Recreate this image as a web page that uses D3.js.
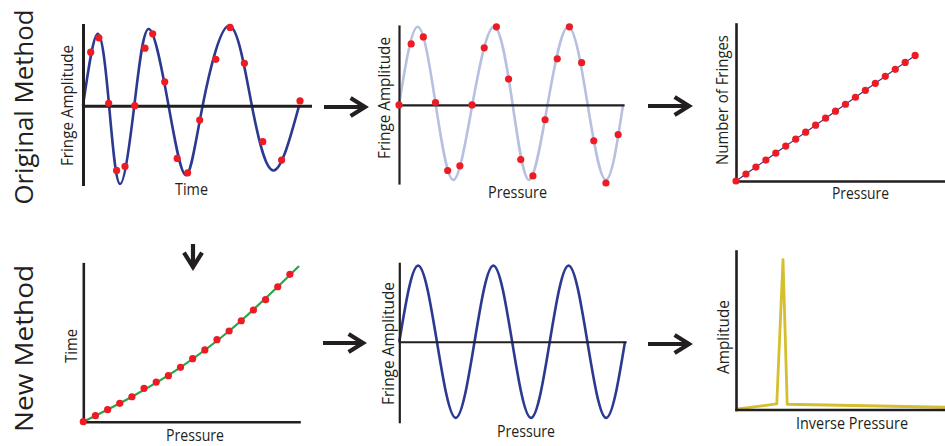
<!DOCTYPE html>
<html>
<head>
<meta charset="utf-8">
<script src="https://cdn.jsdelivr.net/npm/d3@7"></script>
<style>
  html, body { margin: 0; padding: 0; background: #ffffff; }
  svg { display: block; font-family: "Open Sans", "DejaVu Sans", sans-serif; }
</style>
</head>
<body>
<svg id="fig" width="945" height="446"></svg>
<script>
// ---------- Original method: fringe signal against time ----------
// extrema and zero crossings of the recorded signal
const origTimeKnots = [0, 0.65, 1.15, 1.63, 2.26, 2.90, 3.77, 4.53, 5.27, 6.44, 7.44, 8.41, 9.52];
const origTimeAmp   = [0, 0.90, 0, -0.98, 0, 0.96, 0, -0.87, 0, 1.00, 0, -0.81, 0];
// sampled points (equal pressure steps)
const origSampleTime = [0.34, 0.70, 1.13, 1.48, 1.85, 2.28, 2.73, 3.07, 3.60, 4.15, 4.61, 5.14, 5.85, 6.48, 7.11, 7.92, 8.75, 9.56];
const origSampleAmp  = [0.67, 0.85, 0.03, -0.81, -0.76, 0.00, 0.72, 0.90, 0.30, -0.66, -0.84, -0.18, 0.58, 0.98, 0.53, -0.45, -0.68, 0.06];

// ---------- Original method: same samples against pressure ----------
const origPressKnots = [0, 1.54, 3.02, 4.46, 6.02, 7.80, 9.34, 10.68, 12.20, 13.90, 15.50, 17.00, 18.40];
const origPressAmp   = [0, 1.00, 0, -0.96, 0, 1.00, 0, -0.96, 0, 1.00, 0, -0.96, 0];
const origPressSample = [0, 1, 2, 3, 4, 5, 6, 7, 8, 9, 10, 11, 12, 13, 14, 15, 16, 17, 18];
const origPressSampleAmp = [0, 0.78, 0.87, 0.03, -0.84, -0.78, 0, 0.73, 1.00, 0.33, -0.70, -0.91, -0.19, 0.59, 1.00, 0.54, -0.46, -1.00, -0.38];

// ---------- Original method: fringe count against pressure ----------
const countPressure = [0, 1, 2, 3, 4, 5, 6, 7, 8, 9, 10, 11, 12, 13, 14, 15, 16, 17, 18];
const fringeCount   = [0, 1, 2, 3, 4, 5, 6, 7, 8, 9, 10, 11, 12, 13, 14, 15, 16, 17, 18];

// ---------- New method: time of each pressure step ----------
const stepPressure = [0, 1, 2, 3, 4, 5, 6, 7, 8, 9, 10, 11, 12, 13, 14, 15, 16, 17];
const stepTime     = [0, 0.38, 0.76, 1.16, 1.58, 2.11, 2.51, 2.91, 3.44, 3.99, 4.54, 5.19, 5.74, 6.39, 7.07, 7.72, 8.54, 9.33];
const fitPressure  = [0, 4, 8, 12, 16, 17.75];
const fitTime      = [0, 1.58, 3.44, 5.74, 8.54, 9.85];

// ---------- New method: signal resampled on pressure ----------
const newPressKnots = [0, 1.5, 3, 4.5, 6, 7.5, 9, 10.5, 12, 13.5, 15, 16.5, 18];
const newPressAmp   = [0, 1, 0, -1, 0, 1, 0, -1, 0, 1, 0, -1, 0];

// ---------- New method: spectrum over inverse pressure ----------
const inversePressure = [0, 0.195, 0.225, 0.245, 1.0];
const spectrumAmp     = [0.003, 0.037, 1.0, 0.035, 0.015];

// ---------- colours ----------
const INK = "#231f20", NAVY = "#2b3990", LIGHT = "#b6c0e0", RED = "#ed1c24", GREEN = "#26a84a", GOLD = "#d6bf2e";

const svg = d3.select("#fig");
const zip = (a, b) => a.map((v, i) => [v, b[i]]);

function makePanel(p) {
  const x = d3.scaleLinear().domain(p.xDomain).range([p.left, p.right]);
  const y = d3.scaleLinear().domain(p.yDomain).range([p.bottom, p.top]);
  const g = svg.append("g");
  return { x, y, g };
}

function drawAxes(P, width) {
  const xa = P.g.append("g")
    .attr("transform", `translate(0,${P.y(0)})`)
    .call(d3.axisBottom(P.x).tickValues([]).tickSizeOuter(0));
  const ya = P.g.append("g")
    .attr("transform", `translate(${P.x(0)},0)`)
    .call(d3.axisLeft(P.y).tickValues([]).tickSizeOuter(0));
  [xa, ya].forEach(a => a.select(".domain")
    .attr("stroke", INK).attr("stroke-width", width).attr("stroke-linecap", "square"));
}

function drawCurve(P, xs, ys, color, width, curve) {
  P.g.append("path")
    .datum(zip(xs, ys))
    .attr("fill", "none")
    .attr("stroke", color)
    .attr("stroke-width", width)
    .attr("stroke-linejoin", "round")
    .attr("d", d3.line().x(d => P.x(d[0])).y(d => P.y(d[1])).curve(curve));
}

function drawDots(P, xs, ys) {
  P.g.selectAll(null).data(zip(xs, ys)).join("circle")
    .attr("cx", d => P.x(d[0])).attr("cy", d => P.y(d[1]))
    .attr("r", 3.6).attr("fill", RED);
}

function label(text, x, y, len, rotate) {
  svg.append("text")
    .attr("transform", rotate ? `translate(${x},${y}) rotate(-90)` : `translate(${x},${y})`)
    .attr("text-anchor", "middle")
    .attr("font-size", 15.5)
    .attr("fill", INK)
    .attr("textLength", len)
    .attr("lengthAdjust", "spacingAndGlyphs")
    .text(text);
}

// Panel 1: fringe amplitude vs time
const P1 = makePanel({ xDomain: [0, 10], yDomain: [-0.98, 1.01], left: 83, right: 310, top: 25, bottom: 184 });
drawCurve(P1, origTimeKnots, origTimeAmp, NAVY, 2.6, d3.curveNatural);
drawAxes(P1, 3);
drawDots(P1, origSampleTime, origSampleAmp);
label("Fringe Amplitude", 73, 105.5, 121, true);
label("Time", 191.5, 195, 33, false);

// Panel 2: fringe amplitude vs pressure
const P2 = makePanel({ xDomain: [0, 18.4], yDomain: [-1.0, 1.01], left: 399, right: 623, top: 26, bottom: 183 });
drawCurve(P2, origPressKnots, origPressAmp, LIGHT, 2.6, d3.curveNatural);
drawAxes(P2, 2.2);
drawDots(P2, origPressSample, origPressSampleAmp);
label("Fringe Amplitude", 390, 98, 122, true);
label("Pressure", 517.5, 198, 59, false);

// Panel 3: number of fringes vs pressure
const P3 = makePanel({ xDomain: [0, 21], yDomain: [0, 22.5], left: 736, right: 945, top: 24, bottom: 181 });
drawAxes(P3, 2.6);
drawCurve(P3, countPressure, fringeCount, NAVY, 1.2, d3.curveLinear);
drawDots(P3, countPressure, fringeCount);
label("Number of Fringes", 728, 100, 130, true);
label("Pressure", 860.5, 199, 57, false);

// Panel 4: time vs pressure
const P4 = makePanel({ xDomain: [0, 17.75], yDomain: [0, 10], left: 83.3, right: 299, top: 263.7, bottom: 421.7 });
drawAxes(P4, 2.6);
drawCurve(P4, fitPressure, fitTime, GREEN, 2.2, d3.curveMonotoneX);
drawDots(P4, stepPressure, stepTime);
label("Time", 77, 346, 34, true);
label("Pressure", 195, 441, 58, false);

// Panel 5: resampled fringe amplitude vs pressure
const P5 = makePanel({ xDomain: [0, 18], yDomain: [-1.05, 1.03], left: 399.3, right: 625, top: 263.3, bottom: 421.7 });
drawCurve(P5, newPressKnots, newPressAmp, NAVY, 2.6, d3.curveNatural);
drawAxes(P5, 2.2);
label("Fringe Amplitude", 394, 343.5, 123, true);
label("Pressure", 526, 437, 58, false);

// Panel 6: amplitude vs inverse pressure
const P6 = makePanel({ xDomain: [0, 1], yDomain: [0, 1.057], left: 736, right: 945, top: 251, bottom: 409.5 });
drawCurve(P6, inversePressure, spectrumAmp, GOLD, 2.8, d3.curveLinear);
drawAxes(P6, 2.6);
label("Amplitude", 729, 337, 74, true);
label("Inverse Pressure", 852, 429, 112, false);

// Row titles
[["Original Method", 33, 107, 195], ["New Method", 33, 348.5, 167]].forEach(([t, x, y, len]) => {
  svg.append("text")
    .attr("transform", `translate(${x},${y}) rotate(-90)`)
    .attr("text-anchor", "middle")
    .attr("font-size", 25.5)
    .attr("fill", INK)
    .attr("textLength", len)
    .attr("lengthAdjust", "spacingAndGlyphs")
    .text(t);
});

// Flow arrows between panels
function arrow(x1, y1, x2, y2) {
  const ang = Math.atan2(y2 - y1, x2 - x1), L = 17, spread = 0.56;
  const a = ang + Math.PI - spread, b = ang + Math.PI + spread;
  const g = svg.append("g").attr("fill", "none").attr("stroke", INK).attr("stroke-width", 4.2);
  g.append("line").attr("x1", x1).attr("y1", y1).attr("x2", x2 - 3 * Math.cos(ang)).attr("y2", y2 - 3 * Math.sin(ang));
  g.append("path")
    .attr("stroke-linejoin", "miter")
    .attr("stroke-miterlimit", 10)
    .attr("d", `M${x2 + L * Math.cos(a)},${y2 + L * Math.sin(a)}L${x2},${y2}L${x2 + L * Math.cos(b)},${y2 + L * Math.sin(b)}`);
}
arrow(324, 107, 365, 107);
arrow(648, 106, 689, 106);
arrow(323, 343, 363, 343);
arrow(648, 344, 689, 344);
arrow(193, 244, 193, 267);
</script>
</body>
</html>
